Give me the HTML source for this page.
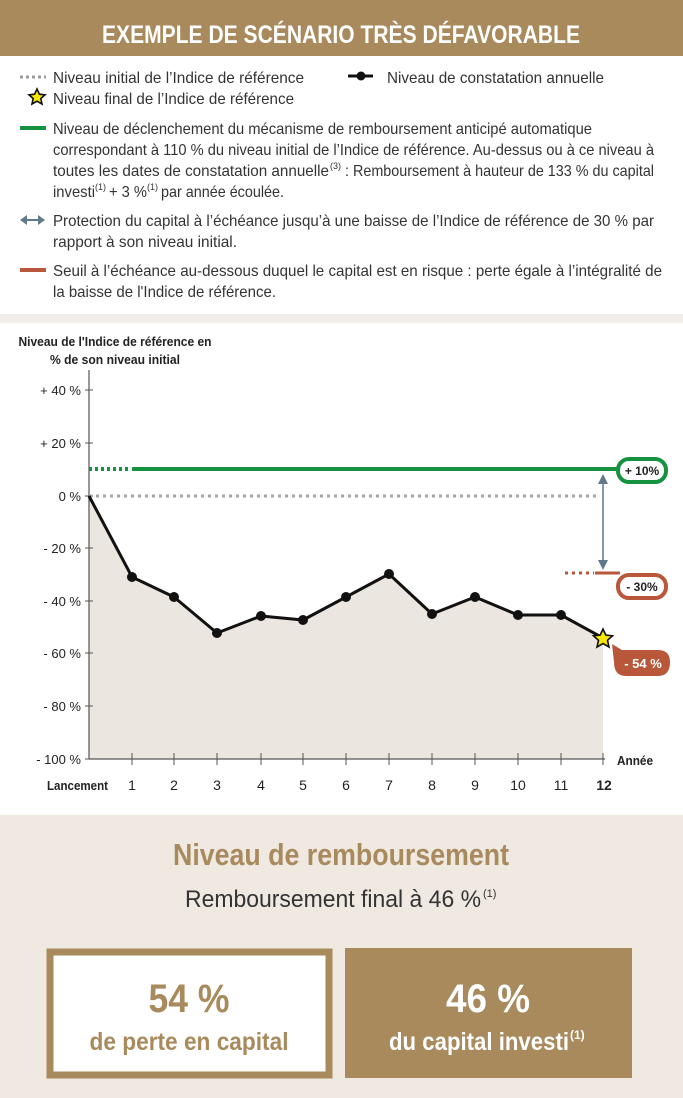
<!DOCTYPE html>
<html><head><meta charset="utf-8"><style>
html,body{margin:0;padding:0;background:#fff}
svg{display:block}
text{font-family:"Liberation Sans Narrow","Liberation Sans",sans-serif}
</style></head><body>
<svg width="683" height="1098" viewBox="0 0 683 1098" xmlns="http://www.w3.org/2000/svg">
<rect x="0" y="0" width="683" height="1098" fill="#fff"/>
<rect x="0" y="0" width="683" height="56" fill="#a88a5c"/>
<text x="341" y="43" text-anchor="middle" font-size="25" font-weight="bold" fill="#fff" textLength="478" lengthAdjust="spacingAndGlyphs">EXEMPLE DE SCÉNARIO TRÈS DÉFAVORABLE</text>

<g font-size="16" fill="#333">
<line x1="20" y1="77" x2="46" y2="77" stroke="#999" stroke-width="3" stroke-dasharray="3,3"/>
<text x="53" y="83" textLength="251" lengthAdjust="spacingAndGlyphs">Niveau initial de l’Indice de référence</text>
<line x1="348" y1="76" x2="373" y2="76" stroke="#111" stroke-width="3"/><circle cx="361" cy="76" r="4.5" fill="#111"/>
<text x="387" y="83" textLength="217" lengthAdjust="spacingAndGlyphs">Niveau de constatation annuelle</text>
<polygon points="37,89 39.4,94.2 45,94.8 40.8,98.5 42,104 37,101.2 32,104 33.2,98.5 29,94.8 34.6,94.2" fill="#f7e600" stroke="#111" stroke-width="1.6"/>
<text x="53" y="104" textLength="241" lengthAdjust="spacingAndGlyphs">Niveau final de l’Indice de référence</text>

<line x1="20" y1="128" x2="46" y2="128" stroke="#14923f" stroke-width="4"/>
<text x="53" y="134" textLength="539" lengthAdjust="spacingAndGlyphs">Niveau de déclenchement du mécanisme de remboursement anticipé automatique</text>
<text x="53" y="155" textLength="601" lengthAdjust="spacingAndGlyphs">correspondant à 110 % du niveau initial de l’Indice de référence. Au-dessus ou à ce niveau à</text>
<text x="53" y="176" textLength="276" lengthAdjust="spacingAndGlyphs">toutes les dates de constatation annuelle</text>
<text x="330" y="169" font-size="9">(3)</text>
<text x="345" y="176" textLength="309" lengthAdjust="spacingAndGlyphs">: Remboursement à hauteur de 133 % du capital</text>
<text x="53" y="197" textLength="42" lengthAdjust="spacingAndGlyphs">investi</text>
<text x="95" y="190" font-size="9">(1)</text>
<text x="109" y="197" textLength="38" lengthAdjust="spacingAndGlyphs">+ 3 %</text>
<text x="147" y="190" font-size="9">(1)</text>
<text x="161" y="197" textLength="123" lengthAdjust="spacingAndGlyphs">par année écoulée.</text>

<line x1="25" y1="220" x2="40" y2="220" stroke="#60788a" stroke-width="2"/>
<polygon points="20,220 27,215 27,225" fill="#60788a"/><polygon points="45,220 38,215 38,225" fill="#60788a"/>
<text x="53" y="226" textLength="601" lengthAdjust="spacingAndGlyphs">Protection du capital à l’échéance jusqu’à une baisse de l’Indice de référence de 30 % par</text>
<text x="53" y="247" textLength="184" lengthAdjust="spacingAndGlyphs">rapport à son niveau initial.</text>

<line x1="20" y1="270" x2="46" y2="270" stroke="#b9573a" stroke-width="4"/>
<text x="53" y="276" textLength="609" lengthAdjust="spacingAndGlyphs">Seuil à l’échéance au-dessous duquel le capital est en risque : perte égale à l’intégralité de</text>
<text x="53" y="297" textLength="223" lengthAdjust="spacingAndGlyphs">la baisse de l'Indice de référence.</text>
</g>

<rect x="0" y="314" width="683" height="9" fill="#f1eee9"/>

<!-- chart -->
<text x="115" y="346" text-anchor="middle" font-size="13" font-weight="bold" fill="#222" textLength="193" lengthAdjust="spacingAndGlyphs">Niveau de l'Indice de référence en</text>
<text x="115" y="364" text-anchor="middle" font-size="13" font-weight="bold" fill="#222" textLength="130" lengthAdjust="spacingAndGlyphs">% de son niveau initial</text>

<polygon points="89,496 132,577 174,597 217,633 261,616 303,620 346,597 389,574 432,614 475,597 518,615 561,615 603,638 603,759 89,759" fill="#ebe6e0"/>
<line x1="89" y1="370" x2="89" y2="759" stroke="#555" stroke-width="1.2"/>
<line x1="89" y1="759" x2="605" y2="759" stroke="#555" stroke-width="1.2"/>
<g stroke="#555" stroke-width="1">
<line x1="85" y1="390" x2="93" y2="390"/><line x1="85" y1="443" x2="93" y2="443"/><line x1="85" y1="496" x2="93" y2="496"/>
<line x1="85" y1="548" x2="93" y2="548"/><line x1="85" y1="601" x2="93" y2="601"/><line x1="85" y1="653" x2="93" y2="653"/>
<line x1="85" y1="706" x2="93" y2="706"/><line x1="85" y1="759" x2="93" y2="759"/>
<line x1="132" y1="753" x2="132" y2="765"/><line x1="174" y1="753" x2="174" y2="765"/><line x1="217" y1="753" x2="217" y2="765"/>
<line x1="261" y1="753" x2="261" y2="765"/><line x1="303" y1="753" x2="303" y2="765"/><line x1="346" y1="753" x2="346" y2="765"/>
<line x1="389" y1="753" x2="389" y2="765"/><line x1="432" y1="753" x2="432" y2="765"/><line x1="475" y1="753" x2="475" y2="765"/>
<line x1="518" y1="753" x2="518" y2="765"/><line x1="561" y1="753" x2="561" y2="765"/><line x1="603" y1="753" x2="603" y2="765"/>
</g>
<g font-size="13" fill="#222" text-anchor="end">
<text x="81" y="395">+ 40 %</text><text x="81" y="448">+ 20 %</text><text x="81" y="501">0 %</text>
<text x="81" y="553">- 20 %</text><text x="81" y="606">- 40 %</text><text x="81" y="658">- 60 %</text>
<text x="81" y="711">- 80 %</text><text x="81" y="764">- 100 %</text>
</g>
<g font-size="14" fill="#222" text-anchor="middle" font-family="Liberation Serif, serif">
<text x="132" y="790">1</text><text x="174" y="790">2</text><text x="217" y="790">3</text><text x="261" y="790">4</text>
<text x="303" y="790">5</text><text x="346" y="790">6</text><text x="389" y="790">7</text><text x="432" y="790">8</text>
<text x="475" y="790">9</text><text x="518" y="790">10</text><text x="561" y="790">11</text>
<text x="604" y="790" font-weight="bold">12</text>
</g>
<text x="47" y="790" font-size="13" font-weight="bold" fill="#222" textLength="61" lengthAdjust="spacingAndGlyphs">Lancement</text>
<text x="617" y="765" font-size="13" font-weight="bold" fill="#222" textLength="36" lengthAdjust="spacingAndGlyphs">Année</text>

<line x1="89" y1="496" x2="600" y2="496" stroke="#a5a5a5" stroke-width="3" stroke-dasharray="3,4"/>
<line x1="89" y1="469" x2="130" y2="469" stroke="#14923f" stroke-width="4" stroke-dasharray="3,3"/>
<line x1="132" y1="469" x2="620" y2="469" stroke="#14923f" stroke-width="4"/>
<line x1="565" y1="573" x2="594" y2="573" stroke="#b9573a" stroke-width="3" stroke-dasharray="3,4"/>
<line x1="595" y1="573" x2="620" y2="573" stroke="#b9573a" stroke-width="3"/>
<line x1="603" y1="480" x2="603" y2="562" stroke="#60788a" stroke-width="1.5"/>
<polygon points="603,474 598,484 608,484" fill="#60788a"/><polygon points="603,570 598,560 608,560" fill="#60788a"/>

<rect x="618" y="459" width="48" height="23" rx="11" fill="#fff" stroke="#14923f" stroke-width="4"/>
<text x="642" y="475" text-anchor="middle" font-size="12" font-weight="bold" fill="#222">+ 10%</text>
<rect x="618" y="575" width="48" height="23" rx="11" fill="#fff" stroke="#b9573a" stroke-width="4"/>
<text x="642" y="591" text-anchor="middle" font-size="12" font-weight="bold" fill="#222">- 30%</text>
<path d="M612,644 L622,650 L658,650 Q670,650 670,662 Q670,676 658,676 L626,676 Q614,676 614,662 Z" fill="#b9573a"/>
<text x="643" y="668" text-anchor="middle" font-size="13" font-weight="bold" fill="#fff">- 54 %</text>

<polyline points="89,496 132,577 174,597 217,633 261,616 303,620 346,597 389,574 432,614 475,597 518,615 561,615 603,638" fill="none" stroke="#111" stroke-width="3" stroke-linejoin="round"/>
<g fill="#111">
<circle cx="132" cy="577" r="5"/><circle cx="174" cy="597" r="5"/><circle cx="217" cy="633" r="5"/><circle cx="261" cy="616" r="5"/>
<circle cx="303" cy="620" r="5"/><circle cx="346" cy="597" r="5"/><circle cx="389" cy="574" r="5"/><circle cx="432" cy="614" r="5"/>
<circle cx="475" cy="597" r="5"/><circle cx="518" cy="615" r="5"/><circle cx="561" cy="615" r="5"/>
</g>
<polygon points="603,629 605.8,635 612.5,635.8 607.5,640.3 609,647 603,643.6 597,647 598.5,640.3 593.5,635.8 600.2,635" fill="#f7e600" stroke="#111" stroke-width="1.6"/>

<!-- bottom -->
<rect x="0" y="815" width="683" height="283" fill="#efe9e2"/>
<text x="341" y="865" text-anchor="middle" font-size="31" font-weight="bold" fill="#a88a5c" textLength="336" lengthAdjust="spacingAndGlyphs">Niveau de remboursement</text>
<text x="185" y="907" font-size="24" fill="#333" textLength="296" lengthAdjust="spacingAndGlyphs">Remboursement final à 46 %</text>
<text x="483" y="897" font-size="11" fill="#333">(1)</text>

<rect x="50" y="952" width="279" height="123" fill="#fff" stroke="#a88a5c" stroke-width="7"/>
<rect x="345" y="948" width="287" height="130" fill="#a88a5c"/>
<text x="189" y="1012" text-anchor="middle" font-size="40" font-weight="bold" fill="#a88a5c" textLength="81" lengthAdjust="spacingAndGlyphs">54 %</text>
<text x="189" y="1050" text-anchor="middle" font-size="25" font-weight="bold" fill="#a88a5c" textLength="199" lengthAdjust="spacingAndGlyphs">de perte en capital</text>
<text x="488" y="1012" text-anchor="middle" font-size="40" font-weight="bold" fill="#fff" textLength="84" lengthAdjust="spacingAndGlyphs">46 %</text>
<text x="389" y="1050" font-size="25" font-weight="bold" fill="#fff" textLength="180" lengthAdjust="spacingAndGlyphs">du capital investi</text>
<text x="570" y="1039" font-size="12" font-weight="bold" fill="#fff">(1)</text>
</svg>
</body></html>
